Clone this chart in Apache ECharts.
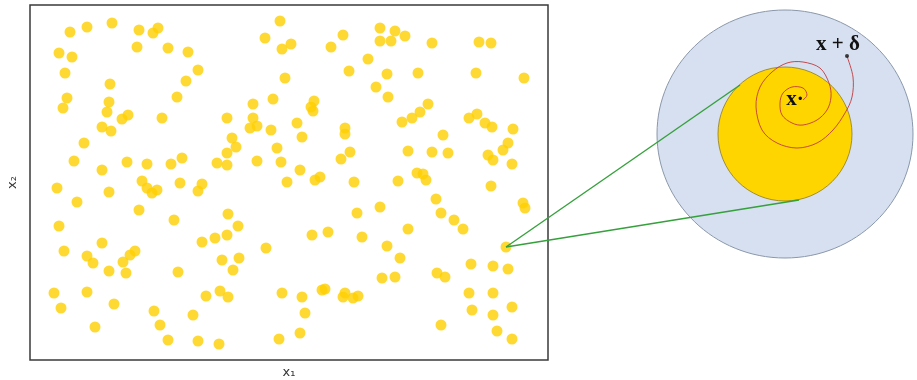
<!DOCTYPE html>
<html><head><meta charset="utf-8">
<script src="https://cdn.jsdelivr.net/npm/echarts@6/dist/echarts.min.js"></script>
<style>html,body{margin:0;padding:0;background:#fff}#c{width:917px;height:380px}</style>
</head><body><div id="c"></div>
<script>
// Scatter sample points (x1, x2) in plot units
const dots = [
[40,328],[57,333],[82,337],[109,330],[123,327],[128,332],[29,307],[42,303],[107,313],[138,312],
[158,308],[35,287],[80,276],[168,290],[156,279],[147,263],[37,262],[33,252],[79,258],[77,248],
[98,245],[92,241],[132,242],[72,233],[81,229],[54,217],[44,199],[72,190],[97,198],[117,196],
[141,196],[152,202],[27,172],[112,179],[150,177],[172,176],[250,339],[235,322],[252,311],[261,316],
[255,282],[243,261],[223,256],[197,242],[223,242],[220,232],[227,234],[241,230],[267,237],[202,222],
[206,213],[197,207],[247,212],[187,197],[197,195],[227,199],[251,198],[270,190],[257,178],[272,223],
[350,332],[365,329],[375,324],[350,319],[361,319],[313,325],[301,313],[402,317],[449,318],[461,317],
[338,301],[319,289],[357,286],[388,287],[446,287],[494,282],[346,273],[358,263],[284,259],[281,253],
[283,249],[398,256],[390,248],[382,242],[372,238],[439,242],[447,246],[455,237],[462,233],[483,231],
[315,232],[315,226],[413,225],[378,209],[402,208],[418,207],[320,208],[311,201],[478,217],[473,210],
[458,205],[463,200],[482,196],[290,183],[285,180],[324,178],[368,179],[387,187],[393,186],[396,180],
[461,174],[79,168],[117,172],[122,167],[127,170],[168,169],[47,158],[109,150],[144,140],[198,146],
[208,134],[29,134],[72,117],[34,109],[57,104],[63,97],[93,98],[100,105],[105,109],[79,89],
[96,87],[148,88],[172,118],[185,122],[197,125],[236,112],[192,100],[209,102],[203,90],[24,67],
[57,68],[31,52],[84,56],[176,64],[190,69],[198,63],[252,67],[272,63],[124,49],[163,45],
[130,35],[65,33],[138,20],[168,19],[189,16],[249,21],[270,27],[406,161],[411,147],[424,140],
[433,131],[493,157],[495,152],[327,147],[350,153],[282,125],[298,128],[332,123],[378,131],[357,114],
[370,102],[441,96],[463,94],[478,91],[352,82],[365,83],[407,87],[415,83],[292,70],[295,71],
[315,67],[313,63],[323,62],[328,64],[275,47],[439,67],[463,67],[482,53],[442,50],[463,45],
[411,35],[467,29],[482,21]
];
const targetPoint = [476,113];

// Inset neighbourhood diagram (units relative to inset centre)
const outerRadius = [128,124];
const innerRadius = 67;
const tangentA = [-45,49];
const tangentB = [14,-66];
const spiral = [
[62,78],[68,57],[67,37],[60,21],[48,4],[32,-9],[12,-14],[-8,-9],[-23,4],[-29,27],
[-25,47],[-13,62],[2,71],[18,72],[35,66],[44,51],[46,37],[42,24],[32,14],[18,9],
[7,11],[-3,19],[-5,31],[-2,41],[7,47],[18,46],[22,39],[18,34]
];
const deltaEnd = [62,78];
const deltaLabelAt = [53,89];
const xLabelAt = [10,34];

const xName = 'x\u2081', yName = 'x\u2082';
const deltaText = 'x + \u03b4', centreText = 'x\u00b7';

const chart = echarts.init(document.getElementById('c'), null, {renderer:'canvas'});
const hiddenAxis = {axisLine:{show:false},axisTick:{show:false},axisLabel:{show:false},splitLine:{show:false}};
chart.setOption({
  animation:false,
  grid:[
    {left:30, top:5, width:518, height:355, outerBoundsMode:'none', containLabel:false, show:true, borderColor:'#3a3a3a', borderWidth:1.5, backgroundColor:'transparent'},
    {left:657, top:10, width:256, height:248, outerBoundsMode:'none', containLabel:false, show:false}
  ],
  xAxis:[
    Object.assign({gridIndex:0, type:'value', min:0, max:518, name:xName, nameLocation:'middle', nameGap:6,
      nameTextStyle:{fontFamily:'DejaVu Sans', fontSize:13, color:'#333'}}, hiddenAxis),
    {gridIndex:1, type:'value', min:-128, max:128, show:false}
  ],
  yAxis:[
    Object.assign({gridIndex:0, type:'value', min:0, max:355, name:yName, nameLocation:'middle', nameGap:11, nameRotate:90,
      nameTextStyle:{fontFamily:'DejaVu Sans', fontSize:13, color:'#333'}}, hiddenAxis),
    {gridIndex:1, type:'value', min:-124, max:124, show:false}
  ],
  series:[
    {type:'scatter', xAxisIndex:0, yAxisIndex:0, data:dots.concat([targetPoint]), symbolSize:11,
      itemStyle:{color:'#FFD000'}, silent:true, z:2},
    {type:'scatter', xAxisIndex:1, yAxisIndex:1, data:[deltaEnd], symbolSize:4,
      itemStyle:{color:'#111'}, silent:true, z:6}
  ]
});

const P0 = v => chart.convertToPixel({gridIndex:0}, v);
const P1 = v => chart.convertToPixel({gridIndex:1}, v);
const c = P1([0,0]);
const rx = P1([outerRadius[0],0])[0]-c[0];
const ry = c[1]-P1([0,outerRadius[1]])[1];
const ri = P1([innerRadius,0])[0]-c[0];
const tp = P0(targetPoint), ta = P1(tangentA), tb = P1(tangentB);
const dl = P1(deltaLabelAt), xl = P1(xLabelAt);

const graphics = [
  {type:'ellipse', z:0, silent:true, shape:{cx:c[0], cy:c[1], rx:rx, ry:ry}, style:{fill:'#D6E0F0', stroke:'#8a97aa', lineWidth:1}},
  {type:'circle', z:1, silent:true, shape:{cx:c[0], cy:c[1], r:ri}, style:{fill:'#FFD500', stroke:'#8c7a2c', lineWidth:0.8}},
  {type:'line', z:3, silent:true, shape:{x1:tp[0], y1:tp[1], x2:ta[0], y2:ta[1]}, style:{stroke:'#35a03c', lineWidth:1.4}},
  {type:'line', z:3, silent:true, shape:{x1:tp[0], y1:tp[1], x2:tb[0], y2:tb[1]}, style:{stroke:'#35a03c', lineWidth:1.4}}
];
// Catmull-Rom segments through the spiral's pixel positions
const sp = spiral.map(P1);
for (let i = 0; i < sp.length - 1; i++) {
  const p0 = sp[Math.max(i-1,0)], p1 = sp[i], p2 = sp[i+1], p3 = sp[Math.min(i+2, sp.length-1)];
  graphics.push({type:'bezierCurve', z:5, silent:true,
    shape:{x1:p1[0], y1:p1[1], x2:p2[0], y2:p2[1],
      cpx1:p1[0] + (p2[0]-p0[0])/6, cpy1:p1[1] + (p2[1]-p0[1])/6,
      cpx2:p2[0] - (p3[0]-p1[0])/6, cpy2:p2[1] - (p3[1]-p1[1])/6},
    style:{fill:null, stroke:'#c23a3e', lineWidth:1, opacity:0.9}});
}
graphics.push(
  {type:'text', z:10, silent:true, x:dl[0], y:dl[1], style:{text:deltaText, font:'bold 21px "Liberation Serif", "DejaVu Serif", serif', fill:'#111', align:'center', verticalAlign:'middle'}},
  {type:'text', z:10, silent:true, x:xl[0], y:xl[1], style:{text:centreText, font:'bold 21px "Liberation Serif", "DejaVu Serif", serif', fill:'#111', align:'center', verticalAlign:'middle'}}
);
chart.setOption({graphic: graphics});
</script></body></html>
